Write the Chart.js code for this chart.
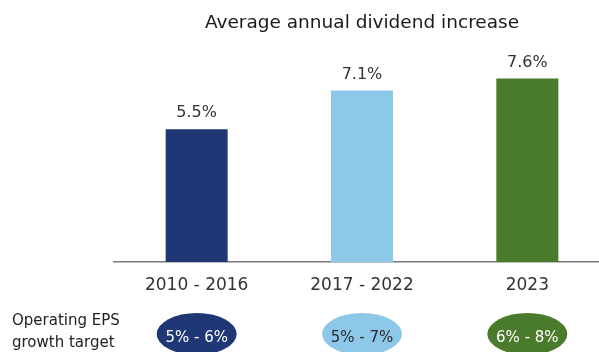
<!DOCTYPE html>
<html>
<head>
<meta charset="utf-8">
<script src="https://cdn.jsdelivr.net/npm/chart.js@4"></script>
<style>
  html, body { margin: 0; padding: 0; background: #fff; overflow: hidden; }
  #wrap { width: 612px; height: 352px; position: relative; }
</style>
</head>
<body>
<div id="wrap"><canvas id="chart"></canvas></div>
<script>
const periods = ["2010 - 2016", "2017 - 2022", "2023"];
const dividendIncrease = [5.5, 7.1, 7.6];
const epsTargets = ["5% - 6%", "5% - 7%", "6% - 8%"];
const barColors = ["#1f3774", "#8dc8e9", "#4a7a2b"];
const targetTextColors = ["#ffffff", "#2a2a2a", "#ffffff"];
const rowLabel = ["Operating EPS", "growth target"];

const FONT = "'DejaVu Sans', sans-serif";

// value labels above bars + the EPS target row under the axis
const extras = {
  id: "extras",
  afterDatasetsDraw(chart) {
    const ctx = chart.ctx;
    const bars = chart.getDatasetMeta(0).data;
    ctx.save();
    ctx.textAlign = "center";
    ctx.textBaseline = "middle";
    ctx.font = "16px " + FONT;
    ctx.fillStyle = "#333";
    bars.forEach((bar, i) => {
      ctx.fillText(dividendIncrease[i].toFixed(1) + "%", bar.x, bar.y - 16);
    });

    bars.forEach((bar, i) => {
      ctx.beginPath();
      ctx.ellipse(bar.x, 334, 40, 21, 0, 0, Math.PI * 2);
      ctx.fillStyle = barColors[i];
      ctx.fill();
      ctx.font = "15px " + FONT;
      ctx.fillStyle = targetTextColors[i];
      ctx.fillText(epsTargets[i], bar.x, 338);
    });

    ctx.textAlign = "left";
    ctx.fillStyle = "#222";
    ctx.font = "15px " + FONT;
    ctx.fillText(rowLabel[0], 12, 321);
    ctx.fillText(rowLabel[1], 12, 343);
    ctx.restore();
  }
};

new Chart(document.getElementById("chart"), {
  type: "bar",
  data: {
    labels: periods,
    datasets: [{
      data: dividendIncrease,
      backgroundColor: barColors,
      categoryPercentage: 1,
      barPercentage: 0.375
    }]
  },
  options: {
    responsive: true,
    maintainAspectRatio: false,
    animation: false,
    layout: { padding: { left: 114, right: 2, top: 0, bottom: 0 } },
    plugins: {
      legend: { display: false },
      tooltip: { enabled: false },
      title: {
        display: true,
        text: "Average annual dividend increase",
        fullSize: false,
        color: "#1a1a1a",
        font: { family: FONT, size: 18.5, weight: "normal" },
        padding: { top: 12, bottom: 10.4 }
      }
    },
    scales: {
      y: { display: false, min: 0, max: 9 },
      x: {
        grid: { display: false, drawTicks: false },
        border: { display: true, color: "#7a7a7a", width: 1.5 },
        ticks: { color: "#333", font: { family: FONT, size: 17 }, padding: 13 },
        afterFit(scale) { scale.height = 90; }
      }
    }
  },
  plugins: [extras]
});
</script>
</body>
</html>
